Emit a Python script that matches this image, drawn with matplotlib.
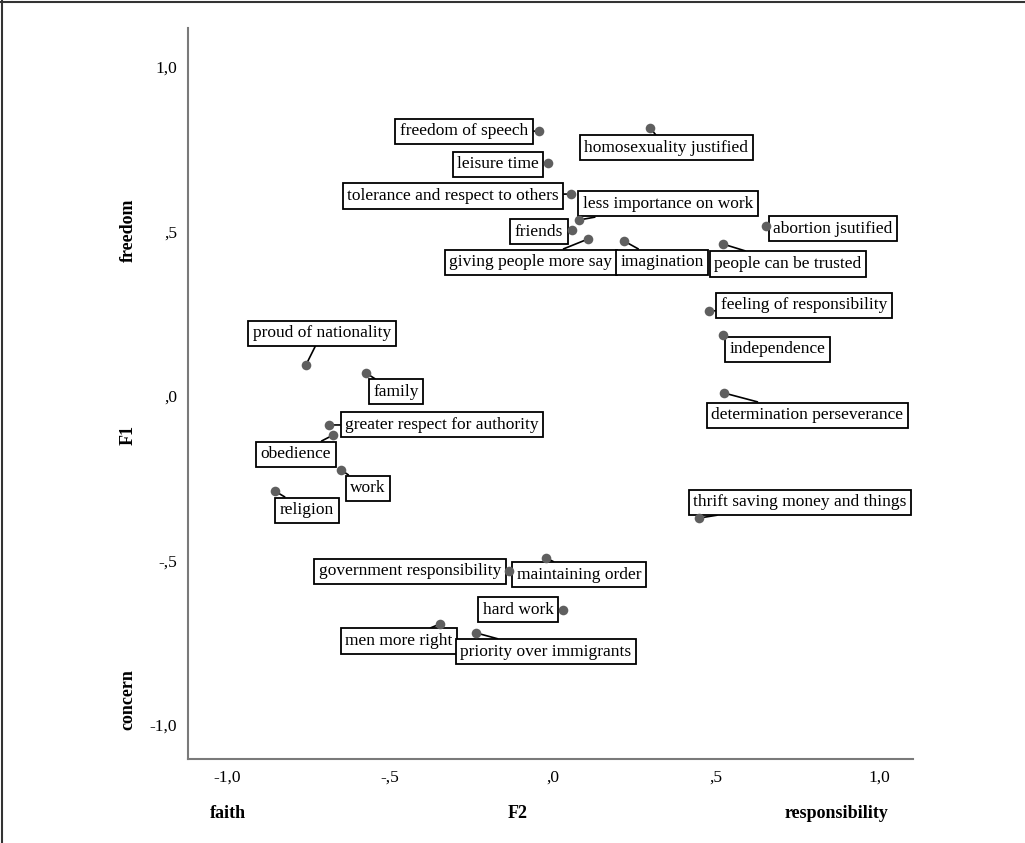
import matplotlib
matplotlib.use('Agg')
import matplotlib.pyplot as plt
from matplotlib.lines import Line2D

labels = ['freedom of speech', 'homosexuality justified', 'leisure time',
          'tolerance and respect to others', 'less importance on work', 'friends',
          'abortion jsutified', 'giving people more say', 'imagination',
          'people can be trusted', 'feeling of responsibility', 'independence',
          'determination perseverance', 'thrift saving money and things',
          'proud of nationality', 'family', 'greater respect for authority',
          'obedience', 'work', 'religion', 'government responsibility',
          'maintaining order', 'hard work', 'men more right',
          'priority over immigrants']
f2 = [-0.043, 0.298, -0.015, 0.055, 0.080, 0.058, 0.653, 0.107, 0.218, 0.521,
      0.479, 0.521, 0.525, 0.448, -0.758, -0.574, -0.687, -0.675, -0.650, -0.853,
      -0.135, -0.021, 0.031, -0.347, -0.236]
f1 = [0.805, 0.815, 0.708, 0.614, 0.535, 0.505, 0.517, 0.477, 0.471, 0.462,
      0.258, 0.185, 0.009, -0.371, 0.094, 0.070, -0.088, -0.119, -0.225, -0.289,
      -0.532, -0.492, -0.650, -0.693, -0.720]

ticks = [-1.0, -0.5, 0.0, 0.5, 1.0]
tick_labels = ['-1,0', '-,5', ',0', ',5', '1,0']

# label box offsets from the dot, in pixels (x right, y up)
offsets = [(-75, 0), (16, -20), (-50, -1), (-118, -2), (89, 16), (-33, -2),
           (67, -3), (-57, -23), (38, -21), (65, -20), (95, 6), (55, -14),
           (83, -22), (101, 16), (16, 32), (30, -19), (113, 0), (-37, -19),
           (27, -18), (32, -19), (-99, 0), (33, -17), (-45, 0), (-41, -17),
           (70, -19)]

plt.rcParams['font.family'] = ['Liberation Serif', 'DejaVu Serif']

fig = plt.figure(figsize=(10.25, 8.43), dpi=100)
ax = fig.add_axes([188/1025, 1-759/843, (913-188)/1025, (759-28)/843])

ax.scatter(f2, f1, s=48, color='#5f5f5f', zorder=5, linewidths=0)

for name, x, y, off in zip(labels, f2, f1, offsets):
    ax.annotate(name, (x, y), xytext=off, textcoords='offset pixels',
                ha='center', va='center', fontsize=12.5, zorder=4,
                bbox=dict(boxstyle='square,pad=0.26', fc='white', ec='black', lw=1.3),
                arrowprops=dict(arrowstyle='-', color='black', lw=1.2,
                                shrinkA=0, shrinkB=0))

ax.set_xlim(-1.1196, 1.1043)
ax.set_ylim(-1.1033, 1.1185)
ax.set_xticks(ticks)
ax.set_xticklabels(tick_labels)
ax.set_yticks(ticks)
ax.set_yticklabels(tick_labels)
ax.tick_params(length=0, labelsize=12.5)
ax.tick_params(axis='x', pad=8)
ax.tick_params(axis='y', pad=8)
for s in ['top', 'right']:
    ax.spines[s].set_visible(False)
for s in ['left', 'bottom']:
    ax.spines[s].set_color('#7a7a7a')
    ax.spines[s].set_linewidth(1.5)

def px(x, y):
    return x/1025, 1-y/843

bold = dict(fontsize=13, fontweight='bold', ha='center', va='center')
fig.text(*px(228, 813), 'faith', **bold)
fig.text(*px(518, 813), 'F2', **bold)
fig.text(*px(837, 813), 'responsibility', **bold)
fig.text(*px(128, 230), 'freedom', rotation=90, **bold)
fig.text(*px(128, 435), 'F1', rotation=90, **bold)
fig.text(*px(128, 700), 'concern', rotation=90, **bold)

# partial frame round the figure
fig.add_artist(Line2D([0, 1], [1-2/843, 1-2/843], color='#333333', lw=1.5))
fig.add_artist(Line2D([2/1025, 2/1025], [0, 1], color='#333333', lw=1.5))

fig.savefig('out.png', dpi=100, facecolor='white')
